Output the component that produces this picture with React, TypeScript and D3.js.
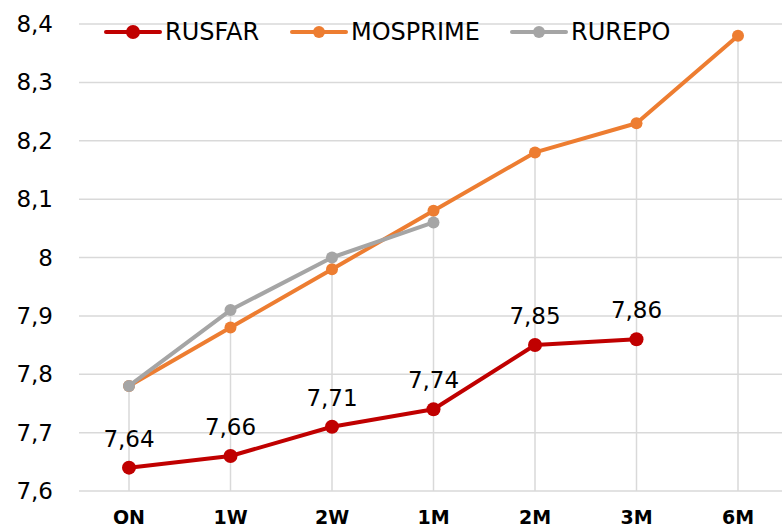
import React, { useEffect, useRef } from "react";
import * as d3 from "d3";

const categories = ["ON", "1W", "2W", "1M", "2M", "3M", "6M"];
const rusfar = [7.64, 7.66, 7.71, 7.74, 7.85, 7.86, null];
const mosprime = [7.78, 7.88, 7.98, 8.08, 8.18, 8.23, 8.38];
const rurepo = [7.78, 7.91, 8.0, 8.06, null, null, null];
const yTicks = [7.6, 7.7, 7.8, 7.9, 8.0, 8.1, 8.2, 8.3, 8.4];

const series = [
  { name: "RUSFAR", values: rusfar, color: "#C00000", r: 7, labels: true },
  { name: "MOSPRIME", values: mosprime, color: "#ED7D31", r: 6, labels: false },
  { name: "RUREPO", values: rurepo, color: "#A5A5A5", r: 6, labels: false },
];

const fmt = (v: number) => d3.format(".2~f")(v).replace(".", ",");

const App = () => {
  const ref = useRef<SVGSVGElement>(null);

  useEffect(() => {
    const width = 782;
    const height = 529;
    const margin = { top: 24, right: 0, bottom: 38, left: 79 };
    const font = "'DejaVu Sans', Verdana, sans-serif";

    const svg = d3.select(ref.current);
    svg.selectAll("*").remove();

    const x = d3.scalePoint<string>().domain(categories).range([129, 738]);
    const y = d3
      .scaleLinear()
      .domain([7.6, 8.4])
      .range([height - margin.bottom, margin.top]);

    // horizontal grid
    svg
      .append("g")
      .selectAll("line")
      .data(yTicks)
      .join("line")
      .attr("x1", margin.left)
      .attr("x2", width - margin.right)
      .attr("y1", d => y(d))
      .attr("y2", d => y(d))
      .attr("stroke", "#D9D9D9")
      .attr("stroke-width", 1.5);

    // drop lines from highest point of each category
    const maxes = categories.map((c, i) => {
      const vals = series.map(s => s.values[i]).filter(v => v != null) as number[];
      return { c, v: d3.max(vals) as number };
    });
    svg
      .append("g")
      .selectAll("line")
      .data(maxes)
      .join("line")
      .attr("x1", d => x(d.c)!)
      .attr("x2", d => x(d.c)!)
      .attr("y1", d => y(d.v))
      .attr("y2", y(7.6))
      .attr("stroke", "#D9D9D9")
      .attr("stroke-width", 1.5);

    // y labels
    svg
      .append("g")
      .selectAll("text")
      .data(yTicks)
      .join("text")
      .attr("x", 53)
      .attr("y", d => y(d) + 8)
      .attr("text-anchor", "end")
      .attr("font-family", font)
      .attr("font-size", 23)
      .attr("fill", "#000")
      .text(d => fmt(d));

    // x labels
    svg
      .append("g")
      .selectAll("text")
      .data(categories)
      .join("text")
      .attr("x", d => x(d)!)
      .attr("y", 524)
      .attr("text-anchor", "middle")
      .attr("font-family", font)
      .attr("font-weight", "bold")
      .attr("font-size", 19)
      .attr("fill", "#000")
      .text(d => d);

    const line = d3
      .line<{ c: string; v: number | null }>()
      .defined(d => d.v != null)
      .x(d => x(d.c)!)
      .y(d => y(d.v as number));

    // mosprime, rurepo, then rusfar on top
    [series[1], series[2], series[0]].forEach(s => {
      const pts = categories.map((c, i) => ({ c, v: s.values[i] }));
      const g = svg.append("g");
      g.append("path")
        .datum(pts)
        .attr("d", line)
        .attr("fill", "none")
        .attr("stroke", s.color)
        .attr("stroke-width", 4)
        .attr("stroke-linejoin", "round");
      g.selectAll("circle")
        .data(pts.filter(p => p.v != null))
        .join("circle")
        .attr("cx", d => x(d.c)!)
        .attr("cy", d => y(d.v as number))
        .attr("r", s.r)
        .attr("fill", s.color);
      if (s.labels) {
        g.selectAll("text")
          .data(pts.filter(p => p.v != null))
          .join("text")
          .attr("x", d => x(d.c)!)
          .attr("y", d => y(d.v as number) - 21)
          .attr("text-anchor", "middle")
          .attr("font-family", font)
          .attr("font-size", 23)
          .attr("fill", "#000")
          .text(d => fmt(d.v as number));
      }
    });

    // legend
    const legendX = [106, 292, 512];
    const legend = svg.append("g");
    series.forEach((s, i) => {
      const lx = legendX[i];
      const ly = 32;
      legend
        .append("line")
        .attr("x1", lx)
        .attr("x2", lx + 54)
        .attr("y1", ly)
        .attr("y2", ly)
        .attr("stroke", s.color)
        .attr("stroke-width", 4)
        .attr("stroke-linecap", "round");
      legend
        .append("circle")
        .attr("cx", lx + 27)
        .attr("cy", ly)
        .attr("r", s.r)
        .attr("fill", s.color);
      legend
        .append("text")
        .attr("x", lx + 59)
        .attr("y", ly + 8)
        .attr("font-family", font)
        .attr("font-size", 24)
        .attr("fill", "#000")
        .text(s.name);
    });
  }, []);

  return (
    <svg
      ref={ref}
      width={782}
      height={529}
      style={{ position: "absolute", left: 0, top: 0, background: "#fff" }}
    />
  );
};

export default App;
